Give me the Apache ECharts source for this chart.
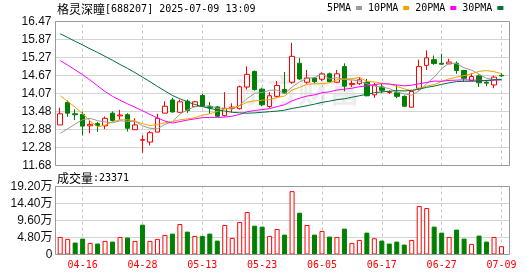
<!DOCTYPE html>
<html><head><meta charset="utf-8">
<script src="https://cdn.jsdelivr.net/npm/echarts@6/dist/echarts.min.js"></script>
<style>html,body{margin:0;padding:0;background:#fff}#c{width:530px;height:276px}</style>
</head><body><div id="c"></div>
<script>
const dates = ['04-11','04-14','04-15','04-16','04-17','04-18','04-21','04-22','04-23','04-24',
  '04-25','04-28','04-29','04-30','05-06','05-07','05-08','05-09','05-12','05-13',
  '05-14','05-15','05-16','05-19','05-20','05-21','05-22','05-23','05-26','05-27',
  '05-28','05-29','05-30','06-03','06-04','06-05','06-06','06-09','06-10','06-11',
  '06-12','06-13','06-16','06-17','06-18','06-19','06-20','06-23','06-24','06-25',
  '06-26','06-27','06-30','07-01','07-02','07-03','07-04','07-07','07-08','07-09'];
const opens = [13.03,13.78,13.40,13.38,13.00,13.08,13.00,13.42,13.33,13.37,
  12.87,12.52,12.46,12.79,13.42,13.86,13.45,13.82,13.64,14.01,
  13.64,13.63,13.34,13.58,13.57,14.29,14.81,14.22,13.64,13.98,
  14.21,14.45,15.08,14.45,14.59,14.55,14.73,14.45,14.97,14.37,
  14.40,14.45,14.03,14.29,14.11,14.10,13.98,13.62,14.25,15.01,
  15.20,15.08,15.06,15.08,14.84,14.51,14.66,14.45,14.36,14.68];
const closes = [13.40,13.42,13.37,12.99,13.05,13.01,13.25,13.18,13.36,12.92,
  13.03,12.54,12.77,13.25,13.65,13.46,13.80,13.51,13.80,13.65,
  13.60,13.32,13.58,13.62,14.30,14.71,14.21,13.70,14.00,14.34,
  14.09,15.31,14.56,14.59,14.47,14.73,14.47,14.73,14.32,14.41,
  14.53,14.00,14.35,14.18,14.13,13.98,13.65,14.14,14.97,15.26,
  15.07,15.05,15.12,14.84,14.58,14.64,14.43,14.42,14.62,14.66];
const highs = [13.60,13.84,13.55,13.47,13.20,13.13,13.31,13.48,13.53,13.42,
  13.25,12.68,12.83,13.40,13.82,13.93,13.87,13.88,13.83,14.06,
  13.79,13.66,14.12,13.75,14.34,14.98,14.84,14.27,14.12,14.49,
  14.79,15.76,15.26,14.86,14.62,14.78,14.77,14.86,15.08,14.51,
  14.62,14.56,14.43,14.39,14.18,14.36,14.01,14.14,15.20,15.51,
  15.34,15.40,15.23,15.14,14.86,14.75,14.71,14.51,14.67,14.75];
const lows = [13.03,13.30,13.19,12.68,12.75,12.80,12.89,13.14,13.20,12.81,
  12.86,12.10,12.35,12.79,13.42,13.45,13.43,13.43,13.62,13.62,
  13.40,13.29,13.31,13.45,13.54,14.21,14.17,13.65,13.60,13.95,
  14.07,14.40,14.53,14.40,14.42,14.49,14.44,14.43,14.15,14.29,
  14.36,13.98,13.93,14.09,14.06,13.92,13.63,13.60,14.18,14.86,
  15.03,15.03,15.05,14.73,14.48,14.50,14.29,14.32,14.25,14.63];
const volumes = [49600,44000,33700,44900,32800,30900,38400,36500,49600,47800,
  38400,84300,38400,44000,55200,59000,86100,64600,52500,52500,
  59000,39300,83400,46800,91700,119900,81400,78700,52500,72100,
  56200,178900,118000,83400,56200,66500,50600,49600,73100,32800,
  41200,61800,45900,39300,30900,36500,28100,41200,136700,131100,
  78700,61800,49600,70200,44900,30000,53400,36500,49600,23371];
const ma5 = [12.75,12.90,13.06,13.20,13.25,13.17,13.13,13.10,13.17,13.14,
  13.15,13.00,12.92,12.90,13.05,13.13,13.39,13.53,13.64,13.64,
  13.67,13.58,13.59,13.55,13.68,13.91,14.08,14.11,14.18,14.19,
  14.07,14.29,14.46,14.58,14.60,14.73,14.56,14.60,14.54,14.53,
  14.49,14.40,14.32,14.29,14.24,14.13,14.06,14.02,14.17,14.40,
  14.62,14.90,15.09,15.07,14.93,14.85,14.72,14.58,14.54,14.55];
const ma10 = [14.00,13.81,13.62,13.40,13.16,12.97,13.02,13.14,13.20,13.20,
  13.16,13.07,13.01,13.04,13.10,13.14,13.20,13.23,13.27,13.35,
  13.40,13.48,13.56,13.60,13.66,13.79,13.83,13.85,13.87,13.94,
  13.99,14.19,14.28,14.38,14.40,14.40,14.43,14.53,14.56,14.57,
  14.61,14.48,14.46,14.42,14.39,14.31,14.23,14.17,14.23,14.32,
  14.37,14.48,14.56,14.62,14.67,14.73,14.81,14.84,14.80,14.74];
const ma20 = [15.17,15.02,14.86,14.70,14.52,14.33,14.14,13.98,13.85,13.73,
  13.62,13.50,13.38,13.26,13.16,13.09,13.14,13.19,13.23,13.27,
  13.28,13.28,13.29,13.32,13.38,13.47,13.51,13.54,13.57,13.64,
  13.70,13.83,13.92,13.99,14.03,14.10,14.13,14.19,14.22,14.25,
  14.30,14.33,14.37,14.40,14.39,14.36,14.33,14.35,14.40,14.44,
  14.49,14.48,14.51,14.52,14.53,14.52,14.52,14.50,14.52,14.53];
const ma30 = [16.06,15.94,15.81,15.69,15.56,15.44,15.31,15.18,15.04,14.91,
  14.77,14.62,14.47,14.31,14.16,14.01,13.90,13.80,13.71,13.64,
  13.58,13.53,13.49,13.45,13.43,13.42,13.43,13.45,13.47,13.49,
  13.52,13.58,13.62,13.67,13.72,13.78,13.82,13.87,13.90,13.95,
  14.00,14.05,14.10,14.13,14.15,14.17,14.16,14.18,14.22,14.28,
  14.32,14.38,14.43,14.47,14.48,14.48,14.49,14.51,14.53,14.54];
const prevClose = 13.00;
const priceTickLabels = ['11.68','12.28','12.88','13.48','14.07','14.67','15.27','15.87','16.47'];
const volTickLabels = ['0','4.80万','9.60万','14.40万','19.20万'];
const labelIdx = [3,11,19,27,35,43,51,59];
const stockName = '格灵深瞳';
const stockInfo = '[688207] 2025-07-09 13:09';
const maNames = ['5PMA','10PMA','20PMA','30PMA'];
const watermark = '东方财富';

const P_MIN = 11.68, P_MAX = 16.47, P_INT = 0.59875;
const V_MAX = 192000, V_INT = 48000;
const X_MIN = -0.628, X_MAX = 60.07;
const RED = '#ff0000', GREEN = '#008000';
const MONO = '"DejaVu Sans Mono", monospace';
const CJK = '"Noto Sans CJK SC", sans-serif';
const NUMF = '"Liberation Sans", "Noto Sans CJK SC", sans-serif';

const chart = echarts.init(document.getElementById('c'), null, {renderer: 'canvas'});
const dashed = {
  silent: true, z: 1, symbol: ['none', 'none'], label: {show: false},
  lineStyle: {color: '#c8c8c8', type: [3, 3], width: 1},
  emphasis: {disabled: true},
  data: labelIdx.map(i => ({xAxis: i}))
};
const maColors = ['#999999', '#f5a200', '#ff00ff', '#00703c'];
const maData = [ma5, ma10, ma20, ma30];

const xBase = {type: 'value', min: X_MIN, max: X_MAX,
  axisLine: {show: false}, axisTick: {show: false}, splitLine: {show: false}};

const option = {
  animation: false,
  backgroundColor: '#fff',
  legend: {
    left: 327, top: 3, padding: 0, itemWidth: 6, itemHeight: 4, itemGap: 6,
    align: 'right', icon: 'rect', selectedMode: false,
    textStyle: {fontFamily: MONO, fontSize: 10, color: '#000'},
    data: maNames
  },
  grid: [
    {left: 55.5, width: 454, top: 21.5, height: 144},
    {left: 55.5, width: 454, top: 186.5, height: 68}
  ],
  xAxis: [
    Object.assign({}, xBase, {gridIndex: 0, axisLabel: {show: false}}),
    Object.assign({}, xBase, {gridIndex: 1, axisLabel: {
      customValues: labelIdx, formatter: v => dates[Math.round(v)],
      color: RED, fontFamily: MONO, fontSize: 10, margin: 6}})
  ],
  yAxis: [
    {type: 'value', gridIndex: 0, min: P_MIN, max: P_MAX, interval: P_INT,
     axisLine: {show: false}, axisTick: {show: false},
     splitLine: {lineStyle: {color: '#d4d4d4', width: 1}},
     axisLabel: {margin: 4, fontFamily: NUMF, fontSize: 12, color: '#111',
       formatter: v => priceTickLabels[Math.round((v - P_MIN) / P_INT)]}},
    {type: 'value', gridIndex: 1, min: 0, max: V_MAX, interval: V_INT,
     axisLine: {show: false}, axisTick: {show: false},
     splitLine: {lineStyle: {color: '#d4d4d4', width: 1}},
     axisLabel: {margin: 3, fontFamily: NUMF, fontSize: 12, color: '#111',
       formatter: v => volTickLabels[Math.round(v / V_INT)]}}
  ],
  series: [
    {type: 'candlestick', xAxisIndex: 0, yAxisIndex: 0, barWidth: 5, z: 3,
     data: dates.map((d, i) => [i, opens[i], closes[i], lows[i], highs[i]]),
     encode: {x: 0, y: [1, 2, 3, 4]},
     itemStyle: {color: '#ffffff', color0: GREEN, borderColor: RED, borderColor0: GREEN, borderWidth: 1},
     markLine: dashed},
    ...maNames.map((n, k) => ({
      name: n, type: 'line', xAxisIndex: 0, yAxisIndex: 0, z: 4,
      data: maData[k].map((v, i) => [i, v]),
      symbol: 'none', showSymbol: false, silent: true, color: maColors[k],
      lineStyle: {width: 1, color: maColors[k]}
    })),
    {type: 'bar', xAxisIndex: 1, yAxisIndex: 1, barWidth: 5, z: 3,
     data: volumes.map((v, i) => {
       const up = closes[i] >= (i === 0 ? prevClose : closes[i - 1]);
       return {value: [i, v], itemStyle: up
         ? {color: '#ffffff', borderColor: RED, borderWidth: 1}
         : {color: GREEN, borderColor: GREEN, borderWidth: 1}};
     }),
     markLine: dashed}
  ],
  graphic: [
    {type: 'text', z: -1, zlevel: 0, x: 236, y: 90, silent: true,
     style: {text: watermark, verticalAlign: 'middle', font: 'bold 31px "Noto Sans CJK SC", sans-serif',
       fill: 'rgba(200,200,200,0.35)'}},
    {type: 'rect', z: 100, silent: true, shape: {x: 55.5, y: 21.5, width: 454, height: 144},
     style: {fill: 'none', stroke: '#999', lineWidth: 1}},
    {type: 'rect', z: 100, silent: true, shape: {x: 55.5, y: 186.5, width: 454, height: 68},
     style: {fill: 'none', stroke: '#999', lineWidth: 1}},
    {type: 'text', z: 100, x: 57, y: 9, silent: true,
     style: {text: '{a|' + stockName + '}{b|' + stockInfo + '}', verticalAlign: 'middle',
       rich: {a: {fontFamily: CJK, fontSize: 12, fill: '#000'}, b: {fontFamily: MONO, fontSize: 10, fill: '#000'}}}},
    {type: 'text', z: 100, x: 57, y: 178, silent: true,
     style: {text: '{a|成交量}{b|:' + volumes[volumes.length - 1] + '}', verticalAlign: 'middle',
       rich: {a: {fontFamily: CJK, fontSize: 12, fill: '#000'}, b: {fontFamily: MONO, fontSize: 10, fill: '#000'}}}}
  ]
};
chart.setOption(option);
</script></body></html>
